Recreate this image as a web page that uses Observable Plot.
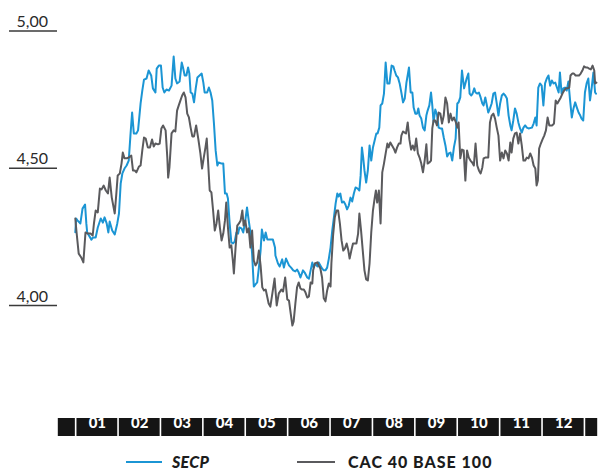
<!DOCTYPE html>
<html>
<head>
<meta charset="utf-8">
<script src="https://cdn.jsdelivr.net/npm/d3@7"></script>
<script src="https://cdn.jsdelivr.net/npm/@observablehq/plot@0.6"></script>
<style>
  html, body { margin: 0; padding: 0; background: #fff; }
  #wrap { width: 598px; height: 471px; overflow: hidden; position: relative; font-family: Lato, "Open Sans", sans-serif; }
  #legend { position: relative; height: 26px; width: 598px; }
  .item { position: absolute; top: 10px; height: 14px; display: flex; align-items: center; }
  .swatch { display: inline-block; height: 2px; }
  .lab { font-size: 16px; line-height: 14px; font-weight: 900; color: #1c1c1c; white-space: nowrap; }
</style>
</head>
<body>
<div id="wrap">
  <div id="chart"></div>
  <div id="legend"></div>
</div>
<script>
// ---- Data ----
// x in months (0 = start of January, 12 = end of December), y = value
const secpT = [-0.02,0.00,0.03,0.10,0.15,0.21,0.24,0.26,0.36,0.40,0.46,0.51,0.58,0.63,0.67,0.72,0.76,0.79,0.85,0.91,0.97,
1.01,1.05,1.09,1.14,1.19,1.24,1.28,1.32,1.36,1.42,1.46,1.52,1.56,1.60,1.66,1.71,1.77,1.81,1.87,1.90,1.95,
2.00,2.04,2.08,2.13,2.19,2.25,2.30,2.34,2.38,2.44,2.49,2.52,2.56,2.60,2.64,2.67,2.70,2.74,2.78,2.82,2.86,2.91,2.96,
3.00,3.03,3.09,3.13,3.17,3.21,3.25,3.29,3.33,3.36,3.43,3.47,3.51,3.55,3.58,3.62,3.66,3.70,3.74,3.78,3.82,3.85,3.90,3.94,3.98,
4.03,4.07,4.11,4.15,4.19,4.23,4.27,4.31,4.35,4.38,4.43,4.47,4.51,4.58,4.64,4.69,4.70,4.76,4.80,4.86,4.90,4.95,
5.02,5.07,5.12,5.17,5.21,5.25,5.29,5.35,5.39,5.45,5.49,5.53,5.57,5.60,5.64,5.69,5.72,5.76,5.80,5.84,5.88,5.92,5.96,
6.00,6.04,6.08,6.12,6.16,6.19,6.23,6.27,6.31,6.35,6.39,6.43,6.47,6.51,6.55,6.59,6.64,6.68,6.71,6.74,6.77,6.80,6.84,6.88,6.92,6.96,
7.00,7.04,7.08,7.11,7.15,7.18,7.22,7.26,7.30,7.34,7.39,7.44,7.48,7.51,7.55,7.59,7.63,7.67,7.71,7.75,7.79,7.85,7.89,7.93,7.96,
8.00,8.04,8.07,8.10,8.14,8.18,8.22,8.26,8.29,8.33,8.37,8.40,8.43,8.47,8.51,8.55,8.59,8.63,8.67,8.71,8.75,8.79,8.83,8.87,8.91,8.95,8.99,
9.02,9.06,9.10,9.15,9.18,9.21,9.25,9.28,9.32,9.35,9.39,9.42,9.46,9.50,9.54,9.58,9.61,9.65,9.72,9.76,9.80,9.84,9.88,9.92,9.96,
10.00,10.04,10.08,10.12,10.16,10.20,10.24,10.27,10.31,10.35,10.39,10.43,10.47,10.51,10.55,10.59,10.63,10.67,10.75,10.79,10.83,10.86,10.90,10.94,10.98,
11.02,11.06,11.10,11.14,11.18,11.22,11.26,11.30,11.34,11.38,11.41,11.45,11.49,11.53,11.57,11.61,11.65,11.69,11.73,11.77,11.81,11.85,11.89,11.92,11.96,
12.00,12.04,12.08,12.12,12.16,12.20,12.24,12.26];
const secpV = [4.267,4.317,4.310,4.299,4.353,4.368,4.299,4.266,4.240,4.248,4.248,4.284,4.317,4.302,4.321,4.299,4.266,4.306,4.273,4.259,4.299,
4.335,4.444,4.481,4.499,4.510,4.528,4.619,4.703,4.627,4.627,4.638,4.736,4.783,4.823,4.827,4.856,4.838,4.791,4.776,4.863,4.874,
4.874,4.794,4.776,4.787,4.783,4.801,4.907,4.827,4.809,4.816,4.885,4.867,4.838,4.838,4.867,4.845,4.776,4.772,4.740,4.791,4.831,4.838,4.845,
4.812,4.776,4.776,4.794,4.776,4.747,4.663,4.565,4.510,4.521,4.517,4.517,4.408,4.408,4.390,4.299,4.230,4.226,4.233,4.266,4.262,4.284,4.281,4.266,4.299,
4.357,4.310,4.266,4.189,4.069,4.077,4.084,4.138,4.200,4.277,4.237,4.266,4.240,4.240,4.240,4.211,4.182,4.153,4.142,4.168,4.138,4.171,
4.146,4.138,4.128,4.124,4.131,4.120,4.102,4.128,4.120,4.102,4.098,4.128,4.157,4.138,4.153,4.142,4.157,4.146,4.135,4.128,4.128,4.138,4.171,
4.211,4.273,4.321,4.372,4.408,4.397,4.408,4.375,4.379,4.368,4.350,4.364,4.393,4.379,4.408,4.430,4.426,4.419,4.474,4.576,4.539,4.492,4.448,4.492,4.583,4.528,
4.576,4.601,4.627,4.627,4.648,4.729,4.736,4.772,4.885,4.809,4.809,4.874,4.871,4.856,4.838,4.831,4.809,4.776,4.740,4.754,4.812,4.867,4.776,4.776,4.721,
4.699,4.699,4.718,4.692,4.681,4.648,4.638,4.692,4.710,4.729,4.776,4.729,4.667,4.714,4.696,4.648,4.645,4.645,4.612,4.583,4.543,4.554,4.557,4.528,4.576,4.608,4.736,
4.740,4.758,4.856,4.791,4.809,4.827,4.845,4.772,4.765,4.772,4.791,4.776,4.772,4.776,4.758,4.736,4.729,4.758,4.703,4.718,4.736,4.772,4.776,4.736,4.692,
4.736,4.765,4.772,4.765,4.754,4.692,4.656,4.638,4.674,4.718,4.699,4.667,4.645,4.630,4.648,4.656,4.648,4.645,4.648,4.663,4.685,4.656,4.794,4.809,4.801,
4.729,4.809,4.827,4.838,4.801,4.820,4.809,4.812,4.794,4.776,4.849,4.772,4.791,4.794,4.783,4.816,4.747,4.685,4.718,4.740,4.721,4.703,4.692,4.681,4.674,
4.776,4.809,4.827,4.747,4.794,4.849,4.776,4.772];

const cacT = [-0.02,0.01,0.06,0.12,0.17,0.22,0.28,0.34,0.39,0.42,0.46,0.51,0.56,0.60,0.65,0.70,0.75,0.79,0.84,0.91,0.95,0.98,
1.03,1.07,1.10,1.14,1.19,1.24,1.30,1.34,1.38,1.42,1.48,1.52,1.56,1.60,1.64,1.69,1.74,1.79,1.83,1.87,1.93,1.97,
2.01,2.05,2.11,2.15,2.17,2.20,2.25,2.30,2.34,2.38,2.42,2.46,2.50,2.54,2.58,2.62,2.66,2.70,2.74,2.78,2.83,2.88,2.93,2.97,
3.01,3.05,3.08,3.11,3.15,3.19,3.23,3.27,3.31,3.35,3.39,3.43,3.47,3.51,3.54,3.58,3.62,3.66,3.70,3.72,3.76,3.80,3.84,3.88,3.92,3.95,3.99,
4.03,4.07,4.11,4.15,4.19,4.23,4.27,4.31,4.35,4.39,4.43,4.47,4.51,4.54,4.58,4.62,4.68,4.73,4.78,4.84,4.88,4.93,4.98,
5.02,5.06,5.10,5.13,5.17,5.21,5.25,5.29,5.33,5.37,5.41,5.45,5.49,5.53,5.57,5.59,5.63,5.69,5.72,5.76,5.80,5.84,5.88,5.92,5.96,
6.00,6.02,6.06,6.10,6.14,6.18,6.22,6.26,6.30,6.34,6.38,6.42,6.45,6.49,6.53,6.57,6.61,6.65,6.68,6.72,6.76,6.80,6.84,6.88,6.92,6.96,
7.00,7.04,7.07,7.10,7.14,7.18,7.22,7.26,7.30,7.34,7.37,7.41,7.45,7.49,7.53,7.57,7.61,7.65,7.67,7.71,7.75,7.78,7.82,7.86,7.90,7.94,7.98,
8.02,8.06,8.10,8.14,8.18,8.22,8.26,8.29,8.33,8.37,8.40,8.43,8.47,8.51,8.55,8.59,8.63,8.67,8.71,8.75,8.79,8.83,8.87,8.91,8.95,8.99,
9.02,9.06,9.10,9.14,9.18,9.22,9.26,9.30,9.34,9.38,9.42,9.46,9.50,9.54,9.58,9.61,9.65,9.72,9.76,9.80,9.84,9.88,9.92,9.96,
10.00,10.04,10.08,10.12,10.16,10.20,10.24,10.27,10.31,10.35,10.39,10.43,10.47,10.51,10.55,10.59,10.63,10.67,10.71,10.75,10.79,10.83,10.86,10.89,10.92,10.96,
11.00,11.04,11.08,11.12,11.16,11.19,11.23,11.27,11.31,11.35,11.39,11.43,11.47,11.51,11.55,11.59,11.63,11.66,11.70,11.74,11.78,11.82,11.86,11.90,11.94,11.98,
12.02,12.06,12.10,12.14,12.18,12.22,12.24,12.27];
const cacV = [4.317,4.266,4.189,4.175,4.157,4.266,4.262,4.262,4.255,4.299,4.346,4.339,4.426,4.423,4.437,4.419,4.408,4.466,4.393,4.335,4.412,4.474,
4.481,4.517,4.557,4.536,4.536,4.539,4.546,4.492,4.492,4.485,4.506,4.510,4.565,4.612,4.608,4.576,4.576,4.605,4.579,4.590,4.587,4.590,
4.645,4.656,4.638,4.539,4.466,4.503,4.627,4.638,4.634,4.710,4.729,4.747,4.765,4.776,4.758,4.699,4.685,4.648,4.616,4.616,4.656,4.608,4.554,4.499,
4.539,4.576,4.608,4.528,4.419,4.412,4.346,4.273,4.299,4.346,4.284,4.237,4.262,4.310,4.375,4.284,4.211,4.219,4.157,4.117,4.211,4.291,4.299,4.310,4.346,4.291,4.310,
4.266,4.281,4.211,4.273,4.164,4.146,4.157,4.200,4.146,4.066,4.055,4.058,4.029,4.007,3.996,4.036,4.098,4.000,4.044,4.058,4.051,4.102,4.022,
4.018,3.971,3.927,3.942,4.007,4.066,4.084,4.062,4.058,4.058,4.047,4.029,4.033,4.084,4.080,4.128,4.153,4.157,4.146,4.135,4.102,4.026,4.015,4.055,4.080,
4.069,4.153,4.255,4.321,4.346,4.346,4.299,4.237,4.200,4.208,4.226,4.200,4.171,4.200,4.226,4.226,4.226,4.262,4.335,4.273,4.200,4.128,4.095,4.091,4.153,4.266,
4.346,4.390,4.419,4.375,4.419,4.299,4.485,4.517,4.554,4.590,4.576,4.594,4.583,4.572,4.557,4.576,4.590,4.590,4.619,4.634,4.630,4.627,4.667,4.605,4.568,4.583,4.565,
4.608,4.554,4.539,4.517,4.485,4.528,4.587,4.517,4.521,4.528,4.645,4.674,4.674,4.656,4.703,4.699,4.663,4.692,4.758,4.736,4.667,4.699,4.674,4.685,4.670,4.648,
4.667,4.536,4.568,4.565,4.455,4.565,4.539,4.528,4.521,4.510,4.590,4.510,4.492,4.481,4.503,4.536,4.539,4.539,4.667,4.692,4.699,4.681,4.648,4.619,
4.528,4.557,4.536,4.565,4.554,4.528,4.594,4.557,4.608,4.627,4.630,4.590,4.627,4.583,4.528,4.528,4.539,4.536,4.554,4.539,4.510,4.499,4.437,4.455,4.572,4.590,
4.605,4.619,4.638,4.685,4.656,4.656,4.656,4.663,4.747,4.736,4.747,4.758,4.772,4.783,4.791,4.791,4.794,4.838,4.845,4.845,4.838,4.838,4.838,4.845,4.856,4.871,
4.867,4.867,4.863,4.860,4.874,4.856,4.809,4.812];

// month band (labels, start, end in months)
const monthLabels = ["", "01", "02", "03", "04", "05", "06", "07", "08", "09", "10", "11", "12", ""];
const monthStart  = [-0.44, 0, 1, 2, 3, 4, 5, 6, 7, 8, 9, 10, 11, 12];
const monthEnd    = [0, 1, 2, 3, 4, 5, 6, 7, 8, 9, 10, 11, 12, 12.32];

// y-axis ticks
const yTicks = [4, 4.5, 5];

// series names and colours
const seriesNames = ["SECP", "CAC 40 BASE 100"];
const seriesColors = ["#1b95d4", "#5a5a5d"];

// ---- Build tables ----
const secp = secpT.map((t, i) => ({t, v: secpV[i], s: seriesNames[0]}));
const cac = cacT.map((t, i) => ({t, v: cacV[i], s: seriesNames[1]}));
const months = monthLabels.map((label, i) => ({label, start: monthStart[i], end: monthEnd[i]}));

const fmt = d => d.toFixed(2).replace(".", ",");

const chart = Plot.plot({
  width: 598,
  height: 445,
  marginTop: 0,
  marginBottom: 9,
  marginLeft: 57,
  marginRight: 0,
  style: {fontFamily: "Lato, 'Open Sans', sans-serif", overflow: "visible", background: "transparent"},
  x: {domain: [-0.44, 12.32], axis: null},
  y: {domain: [4, 5], range: [305, 30.5], axis: null},
  marks: [
    // tick underlines
    Plot.axisY({
      ticks: yTicks,
      tickFormat: () => "",
      tickSize: 48,
      tickPadding: 0,
      color: "#3a3a3a",
      strokeWidth: 1.3,
      label: null
    }),
    // tick labels above the underlines
    Plot.axisY({
      ticks: yTicks,
      tickFormat: fmt,
      tickSize: 0,
      tickPadding: 0,
      textAnchor: "start",
      dx: -41,
      dy: -9,
      fontSize: 16,
      color: "#2a2a2a",
      label: null
    }),
    Plot.barX(months, {
      x1: "start", x2: "end",
      insetTop: 418,
      insetLeft: 0.8, insetRight: 0.8,
      fill: "#151515"
    }),
    Plot.text(months, {
      x: d => (d.start + d.end) / 2,
      text: "label",
      frameAnchor: "bottom",
      dy: -9,
      fill: "white",
      fontSize: 15,
      fontWeight: 900
    }),
    Plot.line(secp, {x: "t", y: "v", stroke: seriesColors[0], strokeWidth: 2, strokeLinejoin: "round"}),
    Plot.line(cac, {x: "t", y: "v", stroke: seriesColors[1], strokeWidth: 2, strokeLinejoin: "round"})
  ]
});
document.getElementById("chart").appendChild(chart);

// ---- Legend (HTML below the SVG) ----
const legend = document.getElementById("legend");
const legendItems = [
  {name: seriesNames[0], color: seriesColors[0], left: 126, w: 36, gap: 10, italic: true, spacing: 0.3},
  {name: seriesNames[1], color: seriesColors[1], left: 297, w: 38, gap: 13, italic: false, spacing: 1}
];
legendItems.forEach(it => {
  const div = document.createElement("div");
  div.className = "item";
  div.style.left = it.left + "px";
  const sw = document.createElement("span");
  sw.className = "swatch";
  sw.style.width = it.w + "px";
  sw.style.background = it.color;
  sw.style.marginRight = it.gap + "px";
  const lab = document.createElement("span");
  lab.className = "lab";
  lab.textContent = it.name;
  lab.style.letterSpacing = it.spacing + "px";
  if (it.italic) lab.style.fontStyle = "italic";
  div.appendChild(sw);
  div.appendChild(lab);
  legend.appendChild(div);
});
</script>
</body>
</html>
